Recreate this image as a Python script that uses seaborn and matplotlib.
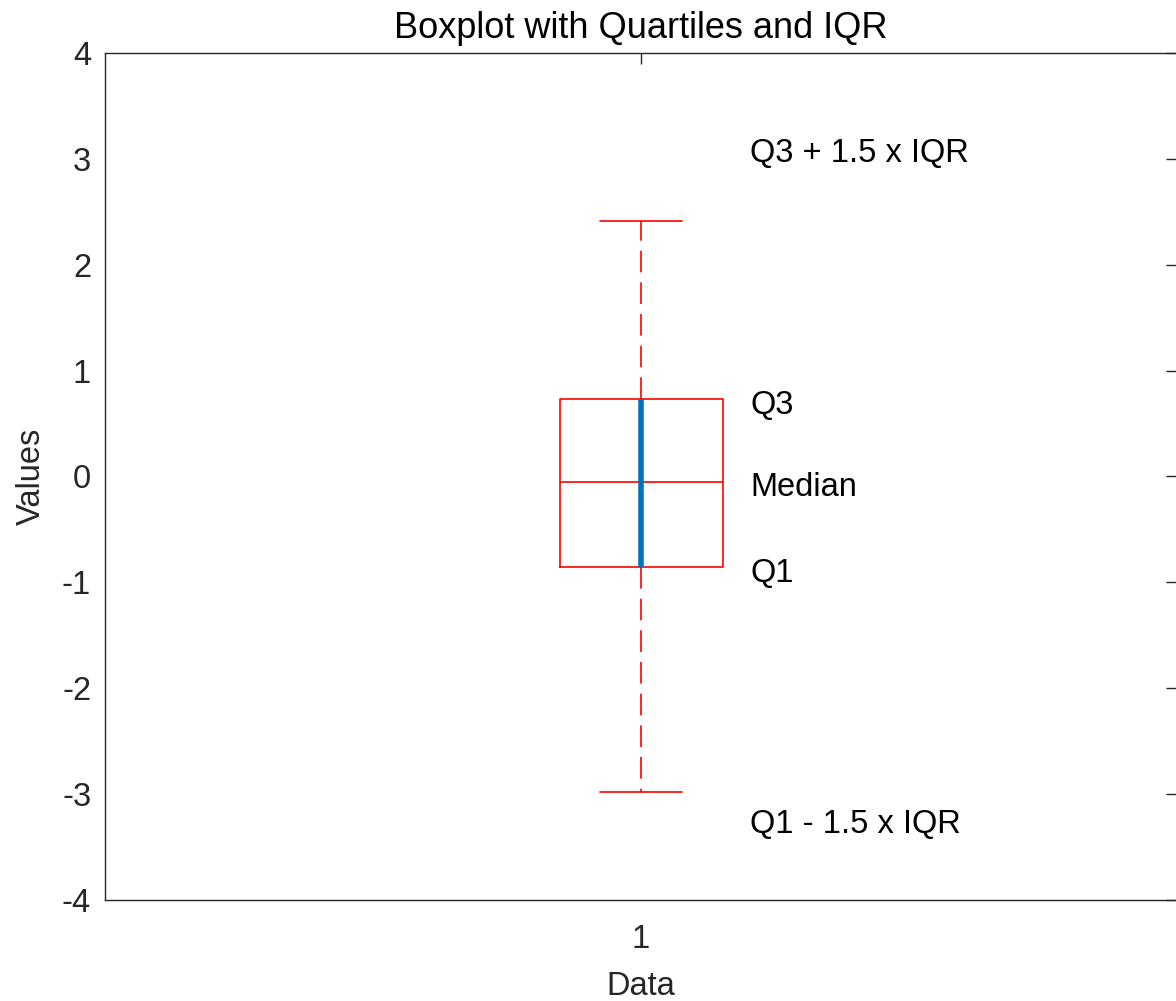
import numpy as np
import pandas as pd
import matplotlib
matplotlib.use("Agg")
import matplotlib.pyplot as plt
import matplotlib.transforms as mtrans
import seaborn as sns

# Data (summary points: whisker ends, quartiles, median)
values = [-2.98, -0.855, -0.05, 0.73, 2.41]
group = [1, 1, 1, 1, 1]
annot_labels = ["Q3 + 1.5 x IQR", "Q3", "Median", "Q1", "Q1 - 1.5 x IQR"]
y_ticks = [-4, -3, -2, -1, 0, 1, 2, 3, 4]

sns.set_style("white")
plt.rcParams["font.family"] = ["Liberation Sans", "DejaVu Sans"]
plt.rcParams["axes.unicode_minus"] = False

df = pd.DataFrame({"Data": group, "Values": values})

fig = plt.figure(figsize=(11.76, 10.01), dpi=100)
ax = fig.add_axes([0.0893, 0.1009, 0.9116, 0.8462])

sns.boxplot(data=df, x="Data", y="Values", native_scale=True, width=0.152,
            fill=False, color="red", linecolor="red", linewidth=1.2, whis=1.5,
            whiskerprops={"linestyle": (0, (13, 6))},
            medianprops={"color": "red"}, ax=ax)

q1, med, q3 = np.percentile(values, [25, 50, 75])
iqr = q3 - q1
ax.plot([1, 1], [q1, q3], color="#0072BD", lw=4.0, zorder=5, solid_capstyle="butt")

ypos = [q3 + 1.5 * iqr, q3, med, q1, q1 - 1.5 * iqr]
txt_tr = mtrans.offset_copy(ax.transData, fig=fig, x=0, y=-6, units="dots")
for lab, yy in zip(annot_labels, ypos):
    ax.text(1.102, yy, lab, ha="left", va="center", fontsize=23.5, color="black",
            transform=txt_tr)

ax.set_xlim(0.5, 1.5)
ax.set_ylim(-4, 4)
ax.set_yticks(y_ticks)
ax.set_yticklabels([str(t) for t in y_ticks])
ax.set_xticks([1])
ax.set_xticklabels(["1"])
ax.tick_params(direction="in", length=8, width=1.0, labelsize=23.5,
               colors="#262626", top=True, right=True)
ax.tick_params(axis="x", pad=17)
ax.tick_params(axis="y", pad=10)
for s in ax.spines.values():
    s.set_color("#262626")
    s.set_linewidth(1.0)
    s.set_visible(True)
ax.set_xlabel("Data", fontsize=23.5, color="#262626", labelpad=12)
ax.set_ylabel("Values", fontsize=23.5, color="#262626", labelpad=11)
ax.set_title("Boxplot with Quartiles and IQR", fontsize=26, color="black", pad=11)

fig.savefig("out.png", dpi=100)
